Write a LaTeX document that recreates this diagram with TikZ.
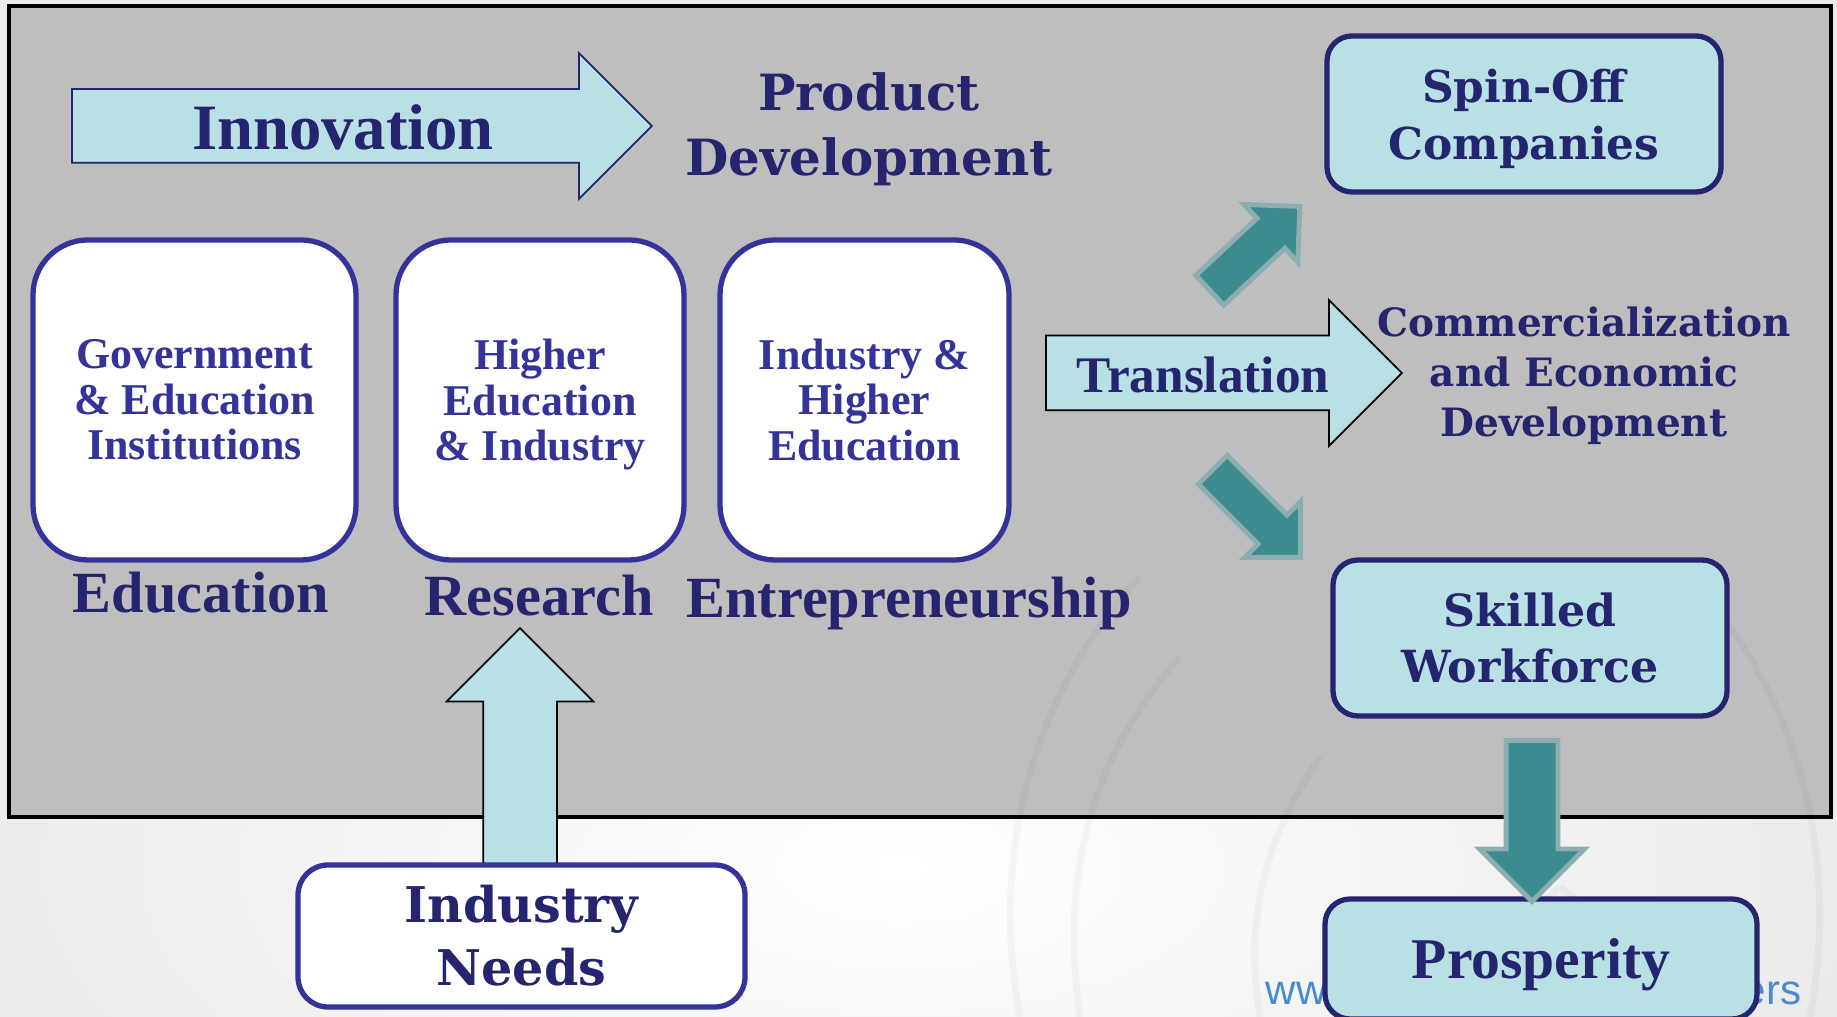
\documentclass[tikz,border=0pt]{standalone}
\usepackage{fontspec}
\setmainfont{Liberation Serif}
\newfontfamily\wideserif{DejaVu Serif}
\newfontfamily\websans{Liberation Sans}
\usetikzlibrary{shapes.arrows}

\definecolor{framegray}{HTML}{BEBEBE}
\definecolor{paleblue}{HTML}{B9E0E4}
\definecolor{navy}{HTML}{25246F}
\definecolor{boxblue}{HTML}{333399}
\definecolor{tealfill}{HTML}{3B8B8F}
\definecolor{tealedge}{HTML}{8CAEB0}
\definecolor{webblue}{HTML}{4A8BD0}

\begin{document}
\begin{tikzpicture}[
	every node/.style={font=\bfseries},
	stagebox/.style={draw=boxblue,line width=1.5pt,fill=white,rounded corners=0.55cm,
		align=center,text=boxblue,minimum height=3.2cm,
		font=\bfseries\fontsize{12.5}{13}\selectfont},
	outcome/.style={draw=navy,line width=1.5pt,fill=paleblue,rounded corners=0.25cm,
		align=center,text=navy,minimum width=3.94cm,minimum height=1.56cm},
	stagelabel/.style={text=navy,anchor=base,font=\bfseries\fontsize{16.6}{19}\selectfont},
	widetext/.style={text=navy,align=center},
	flow/.style={single arrow,single arrow tip angle=90,fill=paleblue,draw=black,
		line width=0.5pt,inner xsep=0pt,anchor=tail},
	push/.style={single arrow,single arrow tip angle=90,fill=tealfill,draw=tealedge,
		line width=1.4pt,inner xsep=0pt,anchor=tail}]

	\clip (0,0) rectangle (18.37,10.17);
	\fill[black!8] (0,0) rectangle (18.37,10.17);
	\shade[inner color=white,outer color=black!8] (-1,-3) rectangle (19,6);

	% grey panel
	\draw[line width=1.3pt,fill=framegray] (0.09,2.0) rectangle (18.31,10.11);

	% faint emblem in the corner
	\begin{scope}[draw=black,opacity=0.03,line width=2pt]
		\draw (10.2,0) .. controls (9.9,1.6) and (10.3,3.2) .. (11.4,4.4);
		\draw (10.8,0) .. controls (10.6,1.4) and (10.9,2.6) .. (11.8,3.6);
		\draw (18.1,0) .. controls (18.4,1.6) and (18.0,3.2) .. (16.9,4.4);
		\draw (13.6,3.0) .. controls (14.3,3.9) and (16.3,3.9) .. (17.0,3.0);
		\draw (12.6,0) .. controls (12.4,1.2) and (12.8,2.0) .. (13.2,2.6);
		\draw (15.6,1.3) -- (14.6,0.4) (15.6,1.3) -- (16.7,0.4);
	\end{scope}

	% top row
	\node[flow,draw=navy,minimum height=5.80cm,inner ysep=0.36cm,
		single arrow head extend=0.36cm] (innov) at (0.71,8.91) {};
	\node[text=navy,font=\bfseries\fontsize{18.4}{22}\selectfont] (innovtext) at (3.43,8.90) {Innovation};
	\node[widetext,font=\wideserif\bfseries\fontsize{14.2}{18.5}\selectfont] (prod) at (8.69,8.88)
		{Product\\Development};

	% the three stages
	\node[stagebox,minimum width=3.23cm] (gov) at (1.945,6.17) {Government\\\& Education\\Institutions};
	\node[stagebox,minimum width=2.88cm,text depth=0pt] (hei) at (5.40,6.17) {Higher\\Education\\\& Industry};
	\node[stagebox,minimum width=2.89cm] (ihe) at (8.645,6.17) {Industry \&\\Higher\\Education};

	\node[stagelabel] (edu) at (2.01,4.04) {Education};
	\node[stagelabel] (res) at (5.39,4.01) {Research};
	\node[stagelabel] (ent) at (9.09,3.99) {Entrepreneurship};

	% industry needs feeding research
	\node[flow,rotate=90,minimum height=2.43cm,inner ysep=0.36cm,
		single arrow head extend=0.365cm] (needsup) at (5.20,1.45) {};
	\node[stagebox,text=navy,minimum width=4.47cm,minimum height=1.42cm,rounded corners=0.3cm,
		font=\wideserif\bfseries\fontsize{14}{17.9}\selectfont] (needs) at (5.215,0.81) {Industry\\Needs};

	% translation and its outcomes
	\node[flow,minimum height=3.56cm,inner ysep=0.365cm,
		single arrow head extend=0.355cm] (transl) at (10.45,6.44) {};
	\node[text=navy,font=\bfseries\fontsize{14.6}{17}\selectfont] (transltext) at (12.03,6.42) {Translation};
	\node[widetext,font=\wideserif\bfseries\fontsize{11.1}{14.2}\selectfont] (comm) at (15.84,6.41)
		{Commercialization\\and Economic\\Development};

	\node[outcome,text depth=0pt,font=\wideserif\bfseries\fontsize{12.5}{16.2}\selectfont] (spin) at (15.24,9.03) {Spin-Off\\Companies};
	\node[outcome,font=\wideserif\bfseries\fontsize{12.6}{16.2}\selectfont] (work) at (15.30,3.79) {Skilled\\Workforce};

	\node[push,rotate=43,minimum height=1.23cm,inner ysep=0.18cm,
		single arrow head extend=0.19cm] (tospin) at (12.08,7.25) {};
	\node[push,rotate=-45,minimum height=1.24cm,inner ysep=0.18cm,
		single arrow head extend=0.19cm] (towork) at (12.11,5.49) {};

	% web address behind the last box
	\node[anchor=west,inner sep=0pt,text=webblue,font=\websans\fontsize{12}{14}\selectfont] (wwwtext) at (12.65,0.24) {www};
	\node[anchor=east,inner sep=0pt,text=webblue,font=\websans\fontsize{12}{14}\selectfont] (erstext) at (18.02,0.24) {ers};

	\node[outcome,minimum width=4.32cm,minimum height=1.20cm,text depth=0pt,
		font=\bfseries\fontsize{16.4}{19}\selectfont] (pros) at (15.41,0.58) {Prosperity};
	\node[push,rotate=-90,minimum height=1.61cm,inner ysep=0.235cm,
		single arrow head extend=0.265cm] (toprosp) at (15.32,2.79) {};

\end{tikzpicture}
\end{document}
